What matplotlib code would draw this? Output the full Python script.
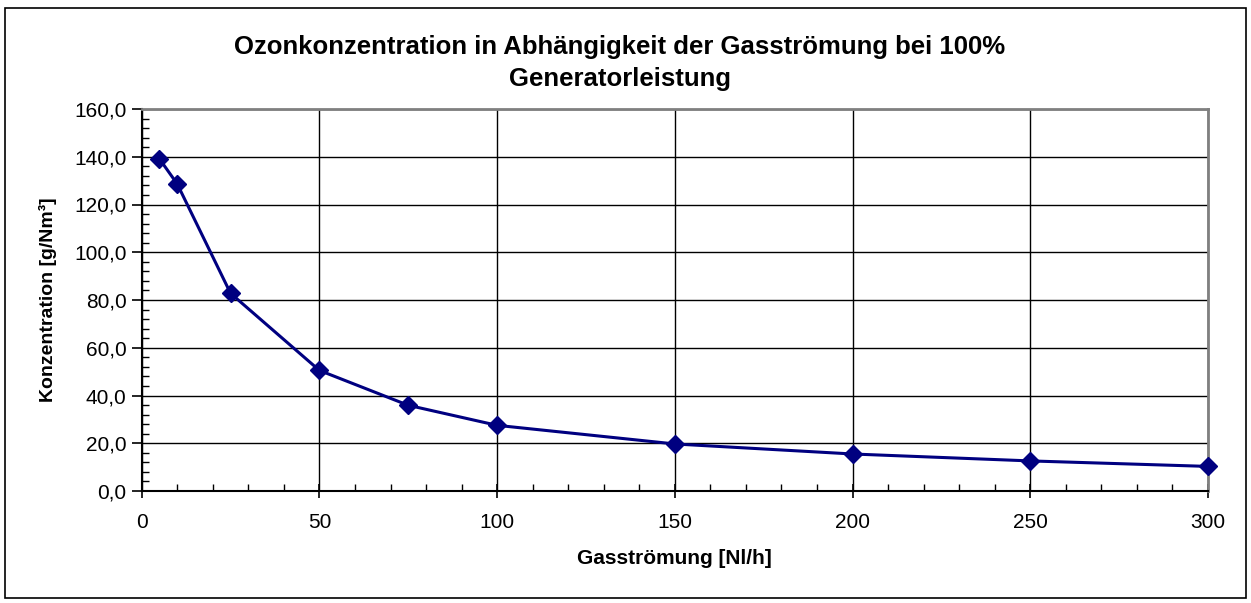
import matplotlib.pyplot as plt
from matplotlib.ticker import MultipleLocator, FuncFormatter
from matplotlib.patches import Rectangle

plt.rcParams['font.family'] = ['Liberation Sans', 'DejaVu Sans']

gas_flow = [5, 10, 25, 50, 75, 100, 150, 200, 250, 300]
concentration = [139.1, 128.6, 82.8, 50.5, 35.9, 27.5, 19.7, 15.5, 12.6, 10.3]

fig = plt.figure(figsize=(12.51, 6.03), dpi=100)
ax = fig.add_axes([141.7/1251, 1 - 491/603, (1208 - 141.7)/1251, (491 - 109)/603])

# figure border
fig.patches.append(Rectangle((5/1251, 1 - 598/603), 1241/1251, 590/603,
                             transform=fig.transFigure, fill=False,
                             edgecolor='black', linewidth=1.2))

ax.plot(gas_flow, concentration, color='#000080', linewidth=2.2,
        marker='D', markersize=9, markerfacecolor='#000080',
        markeredgecolor='#000080', clip_on=False, zorder=5)

ax.set_xlim(0, 300)
ax.set_ylim(0, 160)
ax.xaxis.set_major_locator(MultipleLocator(50))
ax.xaxis.set_minor_locator(MultipleLocator(10))
ax.yaxis.set_major_locator(MultipleLocator(20))
ax.yaxis.set_minor_locator(MultipleLocator(4))
ax.yaxis.set_major_formatter(FuncFormatter(lambda v, p: f'{v:.1f}'.replace('.', ',')))

ax.grid(True, which='major', color='black', linewidth=1.0)
ax.set_axisbelow(True)

ax.tick_params(which='major', direction='out', length=7, width=1.2,
               labelsize=15, colors='black')
ax.tick_params(axis='y', which='major', pad=4)
ax.tick_params(axis='x', which='major', direction='inout', length=10, pad=11)
ax.tick_params(which='minor', direction='in', length=5, width=1.0)

for s in ['left', 'bottom']:
    ax.spines[s].set_color('black')
    ax.spines[s].set_linewidth(1.5)
for s in ['top', 'right']:
    ax.spines[s].set_color('#808080')
    ax.spines[s].set_linewidth(2.0)

ax.set_xlabel('Gasströmung [Nl/h]', fontsize=15, fontweight='bold', labelpad=12)
ax.set_ylabel('Konzentration [g/Nm³]', fontsize=14, fontweight='bold', labelpad=12)

fig.text(620/1251, 1 - 63/603,
         'Ozonkonzentration in Abhängigkeit der Gasströmung bei 100%\nGeneratorleistung',
         ha='center', va='center', fontsize=18.5, fontweight='bold', linespacing=1.45)

fig.savefig('out.png', dpi=100)
